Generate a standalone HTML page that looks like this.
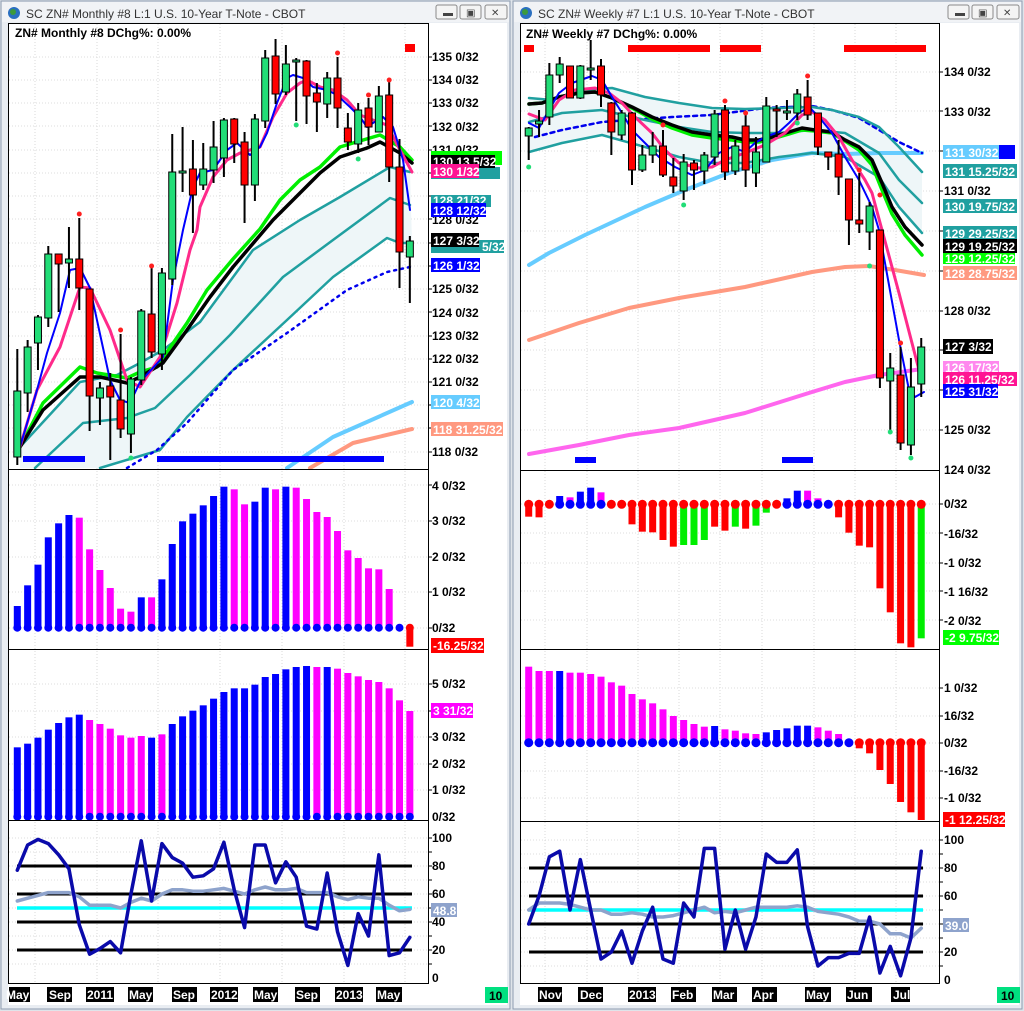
<!DOCTYPE html>
<html><head><meta charset="utf-8"><style>
html,body{margin:0;padding:0;background:#dfe4ea;}
svg{display:block}
text{font-family:"Liberation Sans",sans-serif;}
</style></head><body>
<svg id="s" width="1024" height="1011" xmlns="http://www.w3.org/2000/svg">
<rect x="0" y="0" width="1024" height="1011" fill="#dfe4ea"/>
<rect x="1" y="1" width="509" height="1008" fill="#e9edf2" stroke="#8d9cb0"/>
<rect x="513" y="1" width="509" height="1008" fill="#e9edf2" stroke="#8d9cb0"/>
<rect x="2" y="2" width="507" height="20" fill="#f1f3f6"/>
<rect x="514" y="2" width="507" height="20" fill="#f1f3f6"/>
<circle cx="14" cy="13" r="6" fill="#2a6fc0"/><circle cx="13" cy="12" r="3" fill="#3c9a3c"/>
<circle cx="526" cy="13" r="6" fill="#2a6fc0"/><circle cx="525" cy="12" r="3" fill="#3c9a3c"/>
<text x="26" y="18" font-size="12" fill="#333">SC ZN#  Monthly  #8  L:1  U.S. 10-Year T-Note - CBOT</text>
<text x="538" y="18" font-size="12" fill="#333">SC ZN#  Weekly  #7  L:1  U.S. 10-Year T-Note - CBOT</text>
<g fill="#f4f4f4" stroke="#8a8a8a">
<rect x="436" y="5" width="21" height="14" rx="2"/><rect x="460" y="5" width="21" height="14" rx="2"/><rect x="485" y="5" width="22" height="14" rx="2"/>
<rect x="948" y="5" width="21" height="14" rx="2"/><rect x="972" y="5" width="21" height="14" rx="2"/><rect x="997" y="5" width="22" height="14" rx="2"/>
</g>
<g fill="#444" font-size="10"><text x="443" y="16">▬</text><text x="466" y="16">▣</text><text x="491" y="16">✕</text>
<text x="955" y="16">▬</text><text x="978" y="16">▣</text><text x="1003" y="16">✕</text></g>
<rect x="8" y="23" width="499" height="982" fill="#fff"/>
<rect x="520" y="23" width="499" height="982" fill="#fff"/>
<g id="grid"></g>
<g id="data"></g>
<g fill="none" stroke="#000" stroke-width="1">
<rect x="8.5" y="23.5" width="420" height="960"/>
<line x1="8" y1="469.5" x2="428" y2="469.5"/><line x1="8" y1="649.5" x2="428" y2="649.5"/><line x1="8" y1="820.5" x2="428" y2="820.5"/>
<rect x="520.5" y="23.5" width="419" height="960"/>
<line x1="520" y1="470.5" x2="940" y2="470.5"/><line x1="520" y1="649.5" x2="940" y2="649.5"/><line x1="520" y1="821.5" x2="940" y2="821.5"/>
</g>
<g id="ticks"></g>
<text x="15" y="37" font-size="12" font-weight="bold">ZN#  Monthly  #8 DChg%: 0.00%</text>
<text x="526" y="38" font-size="12" font-weight="bold">ZN#  Weekly  #7 DChg%: 0.00%</text>
<g font-size="12" font-weight="bold" fill="#000">
<text x="432" y="61">135 0/32</text><text x="432" y="84">134 0/32</text><text x="432" y="107">133 0/32</text>
<text x="432" y="131">132 0/32</text><text x="432" y="154">131 0/32</text>
<text x="432" y="224">128 0/32</text>
<text x="432" y="293">125 0/32</text><text x="432" y="317">124 0/32</text><text x="432" y="340">123 0/32</text>
<text x="432" y="363">122 0/32</text><text x="432" y="386">121 0/32</text><text x="432" y="456">118 0/32</text>
</g>
<g font-size="12" font-weight="bold">
<rect x="431" y="151" width="71" height="14" fill="#00ff00"/>
<rect x="431" y="167" width="69" height="12" fill="#20a0a0"/>
<rect x="431" y="155" width="64" height="13" fill="#000"/><text x="433" y="166" fill="#fff">130 13.5/32</text>
<rect x="431" y="164" width="48" height="14" fill="#ff1493"/><text x="433" y="176" fill="#fff">130 1/32</text>
<rect x="431" y="195" width="60" height="12" fill="#20a0a0"/><text x="433" y="205" fill="#fff">128 21/32</text>
<rect x="431" y="203" width="55" height="14" fill="#0000ff"/><text x="433" y="215" fill="#fff">128 12/32</text>
<rect x="431" y="240" width="73" height="13" fill="#20a0a0"/><text x="482" y="251" fill="#fff">5/32</text>
<rect x="431" y="233" width="48" height="14" fill="#000"/><text x="433" y="245" fill="#fff">127 3/32</text>
<rect x="431" y="258" width="49" height="14" fill="#0000ff"/><text x="433" y="270" fill="#fff">126 1/32</text>
<rect x="431" y="395" width="49" height="14" fill="#66ccff"/><text x="433" y="407" fill="#fff">120 4/32</text>
<rect x="431" y="422" width="72" height="14" fill="#ff9980"/><text x="433" y="434" fill="#fff">118 31.25/32</text>
</g>
<g font-size="12" font-weight="bold">
<text x="432" y="490">4 0/32</text><text x="432" y="525">3 0/32</text><text x="432" y="561">2 0/32</text><text x="432" y="596">1 0/32</text><text x="432" y="632">0/32</text>
<rect x="431" y="638" width="53" height="15" fill="#ff0000"/><text x="433" y="650" fill="#fff">-16.25/32</text>
<text x="432" y="688">5 0/32</text>
<rect x="431" y="703" width="42" height="15" fill="#ff00ff"/><text x="433" y="715" fill="#fff">3 31/32</text>
<text x="432" y="741">3 0/32</text><text x="432" y="768">2 0/32</text><text x="432" y="794">1 0/32</text><text x="432" y="821">0/32</text>
<text x="432" y="842">100</text><text x="432" y="870">80</text><text x="432" y="898">60</text><text x="432" y="926">40</text><text x="432" y="954">20</text><text x="432" y="982">0</text>
<rect x="431" y="903" width="26" height="14" fill="#8ea3cc"/><text x="433" y="915" fill="#fff">48.8</text>
</g>
<g font-size="12" font-weight="bold" fill="#000">
<text x="944" y="76">134 0/32</text><text x="944" y="116">133 0/32</text><text x="944" y="195">131 0/32</text>
<text x="944" y="315">128 0/32</text><text x="944" y="434">125 0/32</text><text x="944" y="474">124 0/32</text>
</g>
<g font-size="12" font-weight="bold">
<rect x="943" y="145" width="72" height="14" fill="#0000ff"/>
<rect x="943" y="145" width="56" height="14" fill="#66ccff"/><text x="945" y="157" fill="#fff">131 30/32</text>
<rect x="943" y="164" width="74" height="14" fill="#20a0a0"/><text x="945" y="176" fill="#fff">131 15.25/32</text>
<rect x="943" y="199" width="74" height="14" fill="#20a0a0"/><text x="945" y="211" fill="#fff">130 19.75/32</text>
<rect x="943" y="226" width="74" height="14" fill="#20a0a0"/><text x="945" y="238" fill="#fff">129 29.25/32</text>
<rect x="943" y="251" width="72" height="13" fill="#00ff00"/><text x="945" y="263" fill="#fff">129 12.25/32</text>
<rect x="943" y="239" width="74" height="14" fill="#000"/><text x="945" y="251" fill="#fff">129 19.25/32</text>
<rect x="943" y="266" width="74" height="14" fill="#ff9980"/><text x="945" y="278" fill="#fff">128 28.75/32</text>
<rect x="943" y="339" width="50" height="15" fill="#000"/><text x="945" y="351" fill="#fff">127 3/32</text>
<rect x="943" y="361" width="56" height="12" fill="#ff88ee"/><text x="945" y="372" fill="#fff">126 17/32</text>
<rect x="943" y="372" width="74" height="14" fill="#ff1493"/><text x="945" y="384" fill="#fff">126 11.25/32</text>
<rect x="943" y="384" width="55" height="14" fill="#0000ff"/><text x="945" y="396" fill="#fff">125 31/32</text>
<text x="944" y="508">0/32</text><text x="944" y="538">-16/32</text><text x="944" y="567">-1 0/32</text><text x="944" y="596">-1 16/32</text><text x="944" y="625">-2 0/32</text>
<rect x="943" y="630" width="56" height="15" fill="#00ff00"/><text x="945" y="642" fill="#fff">-2 9.75/32</text>
<text x="944" y="692">1 0/32</text><text x="944" y="720">16/32</text><text x="944" y="747">0/32</text><text x="944" y="775">-16/32</text><text x="944" y="802">-1 0/32</text>
<rect x="943" y="812" width="62" height="15" fill="#ff0000"/><text x="945" y="824" fill="#fff">-1 12.25/32</text>
<text x="944" y="844">100</text><text x="944" y="872">80</text><text x="944" y="900">60</text><text x="944" y="928">40</text><text x="944" y="956">20</text><text x="944" y="984">0</text>
<rect x="943" y="918" width="26" height="14" fill="#8ea3cc"/><text x="945" y="930" fill="#fff">39.0</text>
</g>
<g font-size="12" font-weight="bold">
<g fill="#000">
<rect x="9" y="987" width="21" height="15"/><rect x="47" y="987" width="25" height="15"/><rect x="86" y="987" width="28" height="15"/>
<rect x="128" y="987" width="25" height="15"/><rect x="172" y="987" width="25" height="15"/><rect x="210" y="987" width="28" height="15"/>
<rect x="253" y="987" width="25" height="15"/><rect x="295" y="987" width="25" height="15"/><rect x="335" y="987" width="28" height="15"/>
<rect x="376" y="987" width="26" height="15"/>
<rect x="538" y="987" width="24" height="15"/><rect x="578" y="987" width="25" height="15"/><rect x="628" y="987" width="28" height="15"/>
<rect x="671" y="987" width="25" height="15"/><rect x="712" y="987" width="25" height="15"/><rect x="752" y="987" width="25" height="15"/>
<rect x="805" y="987" width="26" height="15"/><rect x="846" y="987" width="26" height="15"/><rect x="891" y="987" width="19" height="15"/>
</g>
<g fill="#fff">
<text x="6" y="999">May</text><text x="49" y="999">Sep</text><text x="87" y="999">2011</text><text x="129" y="999">May</text>
<text x="173" y="999">Sep</text><text x="211" y="999">2012</text><text x="254" y="999">May</text><text x="296" y="999">Sep</text>
<text x="336" y="999">2013</text><text x="377" y="999">May</text>
<text x="539" y="999">Nov</text><text x="580" y="999">Dec</text><text x="629" y="999">2013</text><text x="672" y="999">Feb</text>
<text x="713" y="999">Mar</text><text x="753" y="999">Apr</text><text x="806" y="999">May</text><text x="847" y="999">Jun</text><text x="893" y="999">Jul</text>
</g>
<rect x="485" y="987" width="23" height="16" fill="#00e080"/><text x="489" y="1000" fill="#000">10</text>
<rect x="997" y="987" width="23" height="16" fill="#00e080"/><text x="1001" y="1000" fill="#000">10</text>
</g>
</svg>
<script>
var NS="http://www.w3.org/2000/svg";
function el(p,t,a){var e=document.createElementNS(NS,t);for(var k in a)e.setAttribute(k,a[k]);p.appendChild(e);return e;}
var D=document.getElementById('data'),G=document.getElementById('grid'),T=document.getElementById('ticks');
function pl(pts,c,w,extra){var a={points:pts.map(function(p){return p.join(',')}).join(' '),fill:'none',stroke:c,'stroke-width':w,'stroke-linejoin':'round','stroke-linecap':'round'};if(extra)for(var k in extra)a[k]=extra[k];el(D,'polyline',a);}
function poly(top,bot,c){var pts=top.concat(bot.slice().reverse());el(D,'polygon',{points:pts.map(function(p){return p.join(',')}).join(' '),fill:c});}
var gl=[35,97,158,220,282,344,405],gr=[545,587,638,679,720,762,814,855,896];
gl.forEach(function(x){el(G,'line',{x1:x,y1:24,x2:x,y2:983,stroke:'#d8d8d8','stroke-dasharray':'1,2'})});
gr.forEach(function(x){el(G,'line',{x1:x,y1:24,x2:x,y2:983,stroke:'#d8d8d8','stroke-dasharray':'1,2'})});
var hl=[57,80,103,126,150,173,196,219,243,266,289,312,336,359,382,405,428,452,485,521,557,592,628,684,711,737,764,790,838,852,866,880,894,908,922,936,950,964];
hl.forEach(function(y){el(G,'line',{x1:9,y1:y,x2:428,y2:y,stroke:'#dcdcdc','stroke-dasharray':'1,2'});el(T,'line',{x1:428,y1:y,x2:432,y2:y,stroke:'#000'})});
var hr=[72,111,151,191,231,271,311,350,390,430,504,533,563,591,620,688,716,743,771,798,840,854,868,882,896,910,924,938,952,966];
hr.forEach(function(y){el(G,'line',{x1:521,y1:y,x2:939,y2:y,stroke:'#dcdcdc','stroke-dasharray':'1,2'});el(T,'line',{x1:939,y1:y,x2:943,y2:y,stroke:'#000'})});
function xl(i){return 17.3+10.33*i;}
function xr(i){return 528.7+10.33*i;}
var tTop=[[20,447],[80,382],[117,375],[140,363],[163,350],[200,322],[253,250],[300,220],[340,197],[390,167],[410,172]];
var tMid=[[35,468],[83,423],[127,418],[155,408],[190,375],[230,335],[283,277],[333,240],[390,198],[410,205]];
var tBot=[[100,468],[160,450],[187,417],[233,370],[287,320],[333,277],[387,238],[400,243],[412,243]];
poly(tTop,[[20,468]].concat(tBot),'#eef6f8');
pl(tTop,'#20a0a0',2.5);pl(tMid,'#20a0a0',2.5);pl(tBot,'#20a0a0',2.5);
pl([[127,468],[157,450],[187,423],[233,370],[287,333],[347,290],[387,272],[410,267]],'#0000ee',2.5,{'stroke-dasharray':'2,5'});
pl([[287,468],[333,437],[412,402]],'#66ccff',4);
pl([[310,468],[353,443],[412,429]],'#ff9980',4);
pl([[20,447],[43,403],[80,367],[97,373],[127,378],[140,372],[157,367],[167,352],[187,323],[207,290],[233,259],[260,229],[280,200],[300,180],[320,167],[340,147],[353,143],[380,135],[400,147],[412,160]],'#00ee00',3.5);
pl([[20,447],[43,410],[80,377],[100,377],[127,383],[140,377],[163,363],[187,330],[210,297],[233,267],[250,247],[273,220],[300,193],[320,173],[340,157],[367,148],[380,142],[400,153],[412,163]],'#000',3.5);
pl([[20,447],[37,390],[60,347],[80,287],[90,288],[110,330],[127,380],[140,387],[160,357],[177,303],[190,250],[197,230],[200,207],[213,177],[227,160],[240,153],[260,147],[273,117],[287,93],[300,83],[307,80],[320,87],[333,90],[347,100],[360,115],[373,120],[387,125],[400,150],[412,172]],'#ff2a8a',3);
pl([[20,447],[37,390],[47,353],[60,313],[70,270],[80,268],[90,288],[110,380],[120,400],[130,403],[140,382],[163,357],[173,280],[183,230],[193,187],[200,173],[213,170],[227,150],[237,143],[250,155],[260,147],[267,133],[277,103],[287,78],[293,75],[303,78],[313,87],[327,90],[337,95],[350,107],[360,117],[367,127],[373,123],[383,117],[393,127],[403,160],[410,210]],'#0000ff',2);
var LC=[[457,391,349,465,'g'],[393,347,340,412,'g'],[343,317,315,370,'g'],[318,254,246,327,'g'],[254,264,254,312,'r'],[263,259,227,288,'g'],[259,288,218,310,'r'],[289,396,289,431,'r'],[398,388,382,425,'g'],[386,397,373,460,'r'],[400,429,334,438,'r'],[434,379,377,453,'g'],[380,311,309,385,'g'],[314,352,268,358,'r'],[354,273,268,370,'g'],[279,172,134,285,'g'],[173,171,127,192,'g'],[169,195,140,233,'r'],[185,169,143,190,'g'],[170,147,121,183,'g'],[158,120,118,177,'g'],[119,144,118,163,'r'],[142,185,132,223,'r'],[185,119,114,201,'g'],[121,58,50,128,'g'],[56,94,39,104,'r'],[92,64,45,95,'g'],[62,60,58,121,'g'],[61,96,60,124,'r'],[93,102,83,132,'r'],[104,78,72,118,'g'],[78,108,57,128,'r'],[128,142,113,150,'r'],[144,110,103,153,'g'],[108,127,98,145,'r'],[132,96,86,132,'g'],[95,167,81,182,'r'],[167,252,139,288,'r'],[257,241,236,303,'g']];
function candles(arr,xf){arr.forEach(function(c,i){var x=xf(i);el(D,'line',{x1:x,y1:c[2],x2:x,y2:c[3],stroke:'#000','stroke-width':2});var t=Math.min(c[0],c[1]),h=Math.max(2,Math.abs(c[0]-c[1]));el(D,'rect',{x:x-3.5,y:t,width:7,height:h,fill:c[4]=='g'?'#22dd77':'#ff0000',stroke:'#000','stroke-width':1});});}
candles(LC,xl);
function dots(list,xf,c){list.forEach(function(d){el(D,'circle',{cx:xf(d[0]),cy:d[1],r:2.5,fill:c})})}
dots([[6,214],[10,330],[13,266],[31,53],[34,95],[36,80]],xl,'#ff2020');
dots([[11,458],[27,125],[33,159]],xl,'#22dd77');
el(D,'rect',{x:405,y:44,width:10,height:8,fill:'#ff0000'});
el(D,'rect',{x:23,y:456,width:62,height:6,fill:'#0000ff'});
el(D,'rect',{x:157,y:456,width:227,height:6,fill:'#0000ff'});
var H1=[408,346,284,202,160,135,143,238,300,354,416,425,382,382,328,222,154,131,106,78,50,58,103,95,53,58,50,53,87,126,141,183,241,264,295,298,357,null,null];
var H1c='bbbbbbmmmmmmbmbbbbbbbmmbbmbmmmmmmmmmmmr';
var z1=627.7;
H1.forEach(function(v,i){var x=xl(i);if(v!==null){var y=470+v/3;el(D,'rect',{x:x-3.5,y:y,width:7,height:z1-y,fill:H1c[i]=='b'?'#0000ff':'#ff00ff'});}
 if(i<38)el(D,'circle',{cx:x,cy:z1,r:4,fill:'#0000ff'});});
el(D,'rect',{x:xl(38)-3.5,y:z1,width:7,height:19,fill:'#ff0000'});el(D,'circle',{cx:xl(38),cy:z1,r:4,fill:'#ff0000'});
var H2=[832,821,803,779,759,742,734,750,762,776,796,803,798,803,793,762,739,722,706,686,666,655,655,644,621,612,598,591,588,591,591,596,609,619,630,636,655,691,723];
var H2c='bbbbbbbmmmmmmbmbbbbbbbbbbbbbbmbmmmmmmmm';
var z2=816.7;
H2.forEach(function(v,i){var x=xl(i),y=470+v/3;el(D,'rect',{x:x-3.5,y:y,width:7,height:z2-y,fill:H2c[i]=='b'?'#0000ff':'#ff00ff'});el(D,'circle',{cx:x,cy:z2,r:4,fill:'#0000ff'});});
[866,894,922,950].forEach(function(y){el(D,'line',{x1:17,y1:y,x2:412,y2:y,stroke:'#000','stroke-width':3})});
el(D,'line',{x1:17,y1:908,x2:412,y2:908,stroke:'#00ffff','stroke-width':3.5});
function rsi(vals,xf,y0,c,w){pl(vals.map(function(v,i){return [xf(i),y0-1.4*v]}),c,w);}
rsi([55,57,59,61,61,61,58,52,52,52,50,54,57,55,60,63,63,62,62,63,64,62,60,63,65,63,63,64,61,61,61,58,56,58,57,57,52,48,49],xl,978,'#8ea3cc',3.5);
rsi([77,95,99,96,88,78,38,17,21,26,18,60,98,55,96,86,82,72,73,78,97,63,36,95,95,68,83,72,37,35,75,33,9,46,30,88,16,18,29],xl,978,'#0a0aaa',3.5);
var rTop=[[529,98],[552,100],[579,90],[612,88],[645,97],[679,103],[712,108],[745,109],[779,108],[812,107],[832,110],[859,117],[879,127],[899,147],[922,172]];
var rMid=[[529,122],[562,113],[602,110],[645,120],[679,127],[712,132],[745,133],[779,133],[812,130],[845,133],[879,153],[899,180],[922,203]];
var rBot=[[529,152],[562,143],[602,135],[645,147],[679,157],[712,163],[745,163],[779,157],[812,153],[845,157],[879,177],[899,207],[922,233]];
poly(rTop,rBot,'#eef6f8');
pl([[529,265],[549,253],[585,235],[645,207],[685,190],[729,173],[772,160],[812,153],[845,154],[879,153],[922,153]],'#66ccff',4);
pl([[529,340],[579,323],[629,308],[679,298],[745,287],[812,272],[845,267],[869,266],[895,270],[924,275]],'#ff9980',4);
pl([[529,454],[579,445],[629,435],[679,428],[745,413],[812,392],[845,382],[879,375],[922,369]],'#ff66ee',4);
pl([[535,137],[562,130],[602,122],[629,120],[672,117],[712,115],[765,108],[812,106],[832,110],[859,118],[879,130],[899,142],[922,153]],'#0000ee',2.5,{'stroke-dasharray':'4,4'});
pl(rTop,'#20a0a0',2.5);pl(rMid,'#20a0a0',2.5);pl(rBot,'#20a0a0',2.5);
pl([[529,104],[542,103],[559,97],[579,93],[595,92],[612,98],[632,108],[652,119],[672,128],[692,135],[712,138],[732,140],[745,142],[759,142],[772,139],[789,134],[802,130],[815,131],[832,133],[845,141],[859,150],[872,165],[882,190],[892,214],[905,235],[922,255]],'#00ee00',3.5);
pl([[529,104],[542,103],[559,97],[579,93],[595,92],[612,98],[632,107],[652,117],[672,125],[692,132],[712,135],[732,137],[745,140],[759,140],[772,137],[789,132],[802,128],[815,130],[832,132],[845,140],[859,147],[872,160],[882,183],[892,207],[905,227],[922,245]],'#000',3.5);
pl([[529,114],[545,120],[559,100],[575,90],[595,88],[609,93],[622,103],[635,117],[652,133],[665,150],[679,163],[699,168],[712,167],[725,160],[745,153],[765,145],[785,133],[802,115],[812,112],[825,120],[839,137],[852,160],[865,180],[872,193],[882,230],[899,293],[919,370]],'#ff2a8a',3);
pl([[529,123],[539,128],[549,110],[559,93],[572,83],[592,76],[602,80],[612,97],[622,113],[632,130],[645,143],[659,157],[675,167],[692,175],[705,170],[719,153],[732,147],[745,152],[755,143],[765,137],[779,132],[789,123],[799,113],[809,107],[819,117],[832,133],[845,157],[859,180],[872,207],[879,230],[899,340],[909,390],[915,397],[924,392]],'#0000ff',2);
var RC=[[136,128,127,160,'g'],[124,121,110,137,'g'],[117,75,63,125,'g'],[75,64,57,83,'g'],[66,98,66,98,'r'],[98,66,65,99,'g'],[70,68,40,80,'g'],[66,95,59,107,'r'],[103,132,102,155,'r'],[135,113,110,140,'g'],[113,170,112,185,'r'],[170,155,145,172,'g'],[155,146,132,163,'g'],[146,175,130,177,'r'],[177,186,158,193,'r'],[191,162,154,200,'g'],[163,170,160,190,'r'],[171,155,152,184,'g'],[157,114,110,165,'g'],[110,172,105,180,'r'],[171,146,140,175,'g'],[126,170,113,187,'r'],[173,152,137,187,'g'],[162,106,97,162,'g'],[109,111,105,137,'r'],[113,111,100,120,'g'],[113,94,89,120,'g'],[97,115,80,120,'r'],[113,147,113,155,'r'],[152,157,152,170,'r'],[154,177,140,195,'r'],[179,220,179,245,'r'],[220,224,173,233,'r'],[232,206,202,250,'g'],[230,378,230,388,'r'],[381,368,353,430,'g'],[375,443,347,450,'r'],[445,387,358,455,'g'],[384,347,338,397,'g']];
candles(RC,xr);
dots([[13,125],[19,101],[21,113],[27,76],[32,170],[34,195],[36,343]],xr,'#ff2020');
dots([[0,167],[15,205],[26,123],[33,266],[35,432],[37,458]],xr,'#22dd77');
[[524,10],[628,82],[720,41],[844,82]].forEach(function(b){el(D,'rect',{x:b[0],y:45,width:b[1],height:7,fill:'#ff0000'})});
el(D,'rect',{x:575,y:457,width:21,height:6,fill:'#0000ff'});el(D,'rect',{x:782,y:457,width:31,height:6,fill:'#0000ff'});
var R1=[140,142,0,78,82,65,53,67,0,0,163,185,187,210,230,225,225,210,170,182,170,176,167,128,0,85,62,62,85,0,142,188,227,232,355,427,520,532,505];
var R1c='rrrbmbbmrrrrrrrgggrrgrggrbbmmrrrrrrrrrg';
var R1d='rrrbbbbbrrrrrrrrrrrrrrrrrbbbbbrrrrrrrrr';
var zr1=504.3;
var colr={r:'#ff0000',g:'#00ee00',b:'#0000ff',m:'#ff00ff'};
R1.forEach(function(v,i){var x=xr(i);if(v){var y=470+v/3;var t=Math.min(y,zr1),h=Math.abs(y-zr1);el(D,'rect',{x:x-3.5,y:t,width:7,height:h,fill:colr[R1c[i]]});}
 el(D,'circle',{cx:x,cy:zr1,r:4.5,fill:colr[R1d[i]]});});
var R2=[590,603,603,603,608,608,612,620,637,647,672,688,700,718,738,750,762,770,768,778,782,790,792,787,780,775,767,767,772,782,792,0,835,850,900,942,996,1027,1050];
var R2c='mmmbmmmmmmmmmmmmmmbmmmmbbbbbmmmbrrrrrrr';
var zr2=742.7;
R2.forEach(function(v,i){var x=xr(i);if(v){var y=470+v/3;var t=Math.min(y,zr2),h=Math.abs(y-zr2);el(D,'rect',{x:x-3.5,y:t,width:7,height:h,fill:colr[R2c[i]]});}
 el(D,'circle',{cx:x,cy:zr2,r:4.5,fill:i>=32?'#ff0000':'#0000ff'});});
[868,896,924,952].forEach(function(y){el(D,'line',{x1:529,y1:y,x2:923,y2:y,stroke:'#000','stroke-width':3})});
el(D,'line',{x1:529,y1:910,x2:923,y2:910,stroke:'#00ffff','stroke-width':3.5});
rsi([50,55,55,55,54,52,50,50,47,47,48,47,45,45,46,48,50,52,48,49,48,50,52,52,52,52,53,52,49,48,47,45,42,42,40,33,33,30,37],xr,980,'#8ea3cc',3.5);
rsi([40,60,88,92,50,86,50,15,20,35,12,35,52,15,12,55,45,94,94,22,50,22,45,90,84,84,93,38,10,16,16,19,19,45,5,24,3,30,92],xr,980,'#0a0aaa',3.5);
</script>
</body></html>
